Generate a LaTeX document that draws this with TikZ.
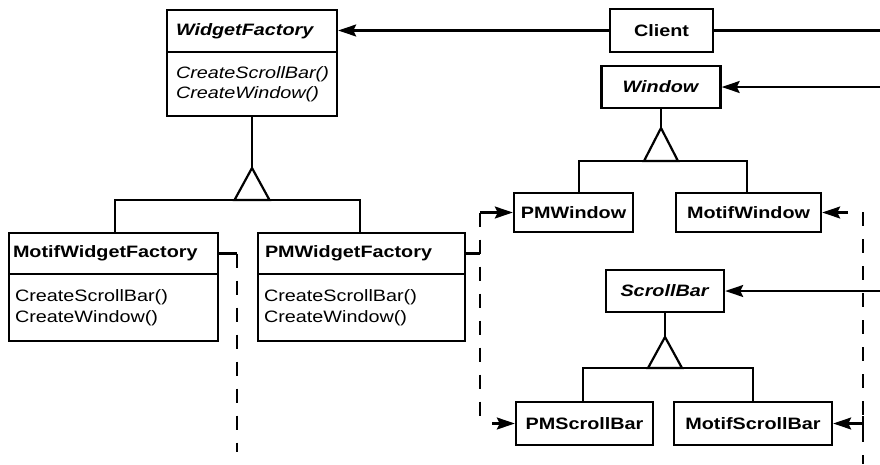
\documentclass[tikz,border=0pt]{standalone}
\usepackage{fontspec}
\setmainfont{Liberation Sans}[FakeStretch=1.2]
\usetikzlibrary{arrows.meta}
\begin{document}
\begin{tikzpicture}[x=1pt,y=-1pt,
  box/.style={draw, line width=2.4pt, inner sep=0pt, font=\fontsize{16.5}{20.5}\selectfont},
  cname/.style={box, font=\fontsize{16.5}{20.5}\selectfont\bfseries, align=center},
  tname/.style={box, font=\fontsize{16.5}{20.5}\selectfont\bfseries, align=left, inner xsep=6pt},
  ops/.style={box, align=left, inner xsep=6pt},
  ln/.style={line width=2.2pt},
  dsh/.style={line width=2.6pt, dash pattern=on 14pt off 13pt},
  arr/.style={line width=2.2pt, -{Stealth[length=18pt,width=12pt,inset=3pt]}},
]
\useasboundingbox (0,0) rectangle (880,464);

% abstract factory
\node[tname, inner xsep=9pt, text width=152pt, minimum height=42pt] (wf) at (252,31) {\textit{WidgetFactory}};
\node[ops, inner xsep=9pt, text width=152pt, minimum height=64pt, font=\fontsize{16.5}{20.5}\selectfont\itshape] (wfops) at (252,84) {CreateScrollBar()\\CreateWindow()};

% concrete factories
\node[tname, inner xsep=4pt, text width=201pt, minimum height=41pt] (mwf) at (113.5,253.5) {MotifWidgetFactory};
\node[ops, inner xsep=6pt, text width=197pt, minimum height=67pt] (mwfops) at (113.5,307.5) {CreateScrollBar()\\CreateWindow()};
\node[tname, inner xsep=7pt, text width=193pt, minimum height=41pt] (pwf) at (361.5,253.5) {PMWidgetFactory};
\node[ops, inner xsep=6pt, text width=195pt, minimum height=67pt] (pwfops) at (361.5,307.5) {CreateScrollBar()\\CreateWindow()};

% client and products
\node[cname, minimum width=103pt, minimum height=43pt] (client) at (661.5,30.5) {Client};
\node[cname, minimum width=119pt, minimum height=42pt] (win) at (661,87) {\textit{Window}};
\node[cname, minimum width=119pt, minimum height=39pt] (pmw) at (573.5,212.5) {PMWindow};
\node[cname, minimum width=145pt, minimum height=39pt] (mw) at (748.5,212.5) {MotifWindow};
\node[cname, minimum width=118pt, minimum height=42pt] (sb) at (665,291) {\textit{ScrollBar}};
\node[cname, minimum width=137pt, minimum height=43pt] (pmsb) at (584.5,423.5) {PMScrollBar};
\node[cname, minimum width=158pt, minimum height=43pt] (msb) at (753,423.5) {MotifScrollBar};

% inheritance: WidgetFactory
\coordinate (wfapex) at (252,168);
\coordinate (wfbase) at (252,200);
\draw[ln] (wfops.south) -- (wfapex);
\draw[ln, line join=miter] (wfapex) -- ++(-17.5,32) -- ++(35,0) -- cycle;
\draw[ln] ([xshift=1.5pt]mwf.north) |- (wfbase) -| ([xshift=-1.5pt]pwf.north);

% inheritance: Window
\coordinate (wapex) at (661,128);
\coordinate (wbase) at (661,161);
\draw[ln] (win.south) -- (wapex);
\draw[ln, line join=miter] (wapex) -- ++(-17,33) -- ++(34,0) -- cycle;
\draw[ln] ([xshift=5.5pt]pmw.north) |- (wbase) -| ([xshift=-1.5pt]mw.north);

% inheritance: ScrollBar
\coordinate (sapex) at (665,337);
\coordinate (sbase) at (665,368);
\draw[ln] (sb.south) -- (sapex);
\draw[ln, line join=miter] (sapex) -- ++(-17,31) -- ++(34,0) -- cycle;
\draw[ln] ([xshift=-1.5pt]pmsb.north) |- (sbase) -| (msb.north);

% client associations
\coordinate (cr) at (880,30.5);
\coordinate (rw) at (880,87);
\coordinate (rs) at (880,291);
\draw[arr] (client.west) -- (client.west -| wf.east);
\draw[ln] (client.east) -- (cr);
\draw[arr] (rw) -- (win.east);
\draw[arr] (rs) -- (sb.east);

% creation (Motif factory)
\coordinate (mj) at (237,253.5);
\coordinate (mbot) at (237,452);
\draw[ln] (mwf.east) -- (mj);
\draw[dsh] (mj) -- (mbot);

% creation (PM factory)
\coordinate (pj) at (480,253.5);
\coordinate (ptop) at (480,212.5);
\coordinate (pbot) at (480,423.5);
\coordinate (pbs) at (492,423.5);
\draw[ln] (pwf.east) -- (pj);
\draw[dsh] (ptop) -- (pbot);
\draw[arr] (ptop) -- (pmw.west);
\draw[arr] (pbs) -- (pmsb.west);

% creation (Motif products)
\coordinate (rtop) at (863,212);
\coordinate (rbot) at (863,464);
\coordinate (mwt) at (848,212.5);
\coordinate (msbt) at (863,423.5);
\coordinate (tickt) at (863,416);
\coordinate (tickb) at (863,431);
\draw[dsh] (rtop) -- (rbot);
\draw[arr] (mwt) -- (mw.east);
\draw[arr] (msbt) -- (msb.east);
\draw[ln] (tickt) -- (tickb);
\end{tikzpicture}
\end{document}
